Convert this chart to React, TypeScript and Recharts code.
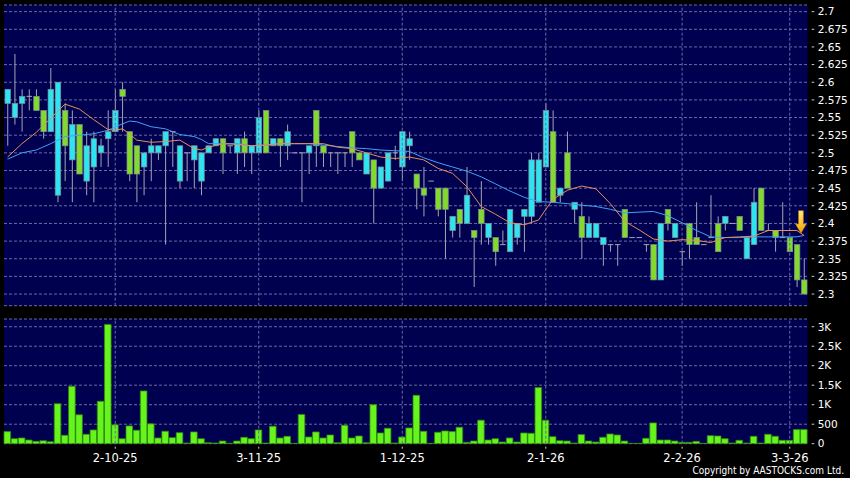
import React from 'react';
import {
	ComposedChart,
	Bar,
	Line,
	XAxis,
	YAxis,
	CartesianGrid,
	ReferenceLine,
	ReferenceDot,
} from 'recharts';

// daily candles (oldest first)
const OPEN = [
	2.57, 2.55, 2.57, 2.58, 2.58, 2.56, 2.53, 2.44, 2.56, 2.49,
	2.54, 2.46, 2.48, 2.5, 2.52, 2.53, 2.59, 2.53, 2.51, 2.48,
	2.5, 2.5, 2.51, 2.53, 2.46, 2.5, 2.49, 2.46, 2.5, 2.51,
	2.52, 2.51, 2.5, 2.52, 2.5, 2.5, 2.56, 2.51, 2.52, 2.51,
	2.5, 2.5, 2.5, 2.56, 2.51, 2.5, 2.5, 2.5, 2.53, 2.5,
	2.47, 2.49, 2.45, 2.46, 2.5, 2.48, 2.51, 2.47, 2.45, 2.46,
	2.45, 2.45, 2.39, 2.42, 2.4, 2.39, 2.42, 2.38, 2.38, 2.37,
	2.36, 2.38, 2.41, 2.41, 2.43, 2.48, 2.53, 2.44, 2.5, 2.42,
	2.41, 2.38, 2.38, 2.37, 2.37, 2.37, 2.42, 2.38, 2.38, 2.37,
	2.37, 2.32, 2.42, 2.38, 2.36, 2.4, 2.38, 2.37, 2.38, 2.4,
	2.4, 2.4, 2.41, 2.35, 2.37, 2.45, 2.39, 2.39, 2.38, 2.38,
	2.37, 2.32,
];
const HIGH = [
	2.59, 2.64, 2.59, 2.59, 2.59, 2.56, 2.62, 2.6, 2.57, 2.56,
	2.54, 2.53, 2.53, 2.52, 2.56, 2.59, 2.6, 2.53, 2.51, 2.5,
	2.52, 2.51, 2.53, 2.53, 2.51, 2.5, 2.51, 2.5, 2.51, 2.52,
	2.52, 2.51, 2.52, 2.53, 2.51, 2.56, 2.56, 2.52, 2.52, 2.54,
	2.5, 2.5, 2.51, 2.56, 2.51, 2.5, 2.5, 2.5, 2.53, 2.5,
	2.5, 2.49, 2.48, 2.5, 2.51, 2.53, 2.53, 2.47, 2.48, 2.46,
	2.45, 2.45, 2.41, 2.42, 2.48, 2.39, 2.46, 2.4, 2.38, 2.39,
	2.42, 2.4, 2.42, 2.5, 2.5, 2.57, 2.56, 2.45, 2.53, 2.43,
	2.43, 2.41, 2.4, 2.38, 2.37, 2.37, 2.42, 2.38, 2.38, 2.37,
	2.37, 2.4, 2.42, 2.4, 2.36, 2.4, 2.43, 2.37, 2.44, 2.41,
	2.41, 2.4, 2.41, 2.38, 2.45, 2.45, 2.4, 2.39, 2.43, 2.38,
	2.37, 2.35,
];
const LOW = [
	2.51, 2.54, 2.53, 2.56, 2.56, 2.52, 2.53, 2.43, 2.46, 2.43,
	2.47, 2.44, 2.43, 2.48, 2.48, 2.53, 2.53, 2.46, 2.43, 2.44,
	2.46, 2.49, 2.37, 2.48, 2.45, 2.46, 2.45, 2.44, 2.5, 2.51,
	2.47, 2.5, 2.47, 2.48, 2.47, 2.5, 2.5, 2.51, 2.48, 2.49,
	2.5, 2.43, 2.47, 2.48, 2.48, 2.48, 2.47, 2.48, 2.48, 2.49,
	2.47, 2.4, 2.45, 2.46, 2.49, 2.46, 2.49, 2.42, 2.41, 2.46,
	2.41, 2.35, 2.38, 2.38, 2.4, 2.31, 2.37, 2.37, 2.34, 2.37,
	2.36, 2.37, 2.36, 2.4, 2.43, 2.48, 2.43, 2.43, 2.45, 2.4,
	2.35, 2.38, 2.38, 2.34, 2.36, 2.34, 2.38, 2.38, 2.38, 2.36,
	2.32, 2.32, 2.39, 2.38, 2.34, 2.35, 2.37, 2.37, 2.38, 2.36,
	2.39, 2.4, 2.39, 2.35, 2.37, 2.39, 2.39, 2.36, 2.38, 2.36,
	2.31, 2.3,
];
const CLOSE = [
	2.59, 2.57, 2.58, 2.58, 2.56, 2.53, 2.59, 2.6, 2.51, 2.54,
	2.47, 2.51, 2.52, 2.51, 2.53, 2.56, 2.58, 2.47, 2.47, 2.5,
	2.51, 2.51, 2.53, 2.53, 2.51, 2.5, 2.51, 2.5, 2.51, 2.52,
	2.5, 2.51, 2.52, 2.5, 2.51, 2.55, 2.5, 2.52, 2.51, 2.53,
	2.5, 2.5, 2.51, 2.51, 2.5, 2.5, 2.5, 2.5, 2.5, 2.49,
	2.5, 2.45, 2.48, 2.5, 2.5, 2.53, 2.52, 2.45, 2.44, 2.46,
	2.42, 2.42, 2.41, 2.4, 2.44, 2.38, 2.4, 2.4, 2.36, 2.37,
	2.42, 2.4, 2.42, 2.49, 2.49, 2.56, 2.43, 2.45, 2.45, 2.43,
	2.38, 2.4, 2.4, 2.38, 2.37, 2.37, 2.38, 2.38, 2.38, 2.37,
	2.32, 2.4, 2.4, 2.4, 2.36, 2.37, 2.37, 2.37, 2.38, 2.36,
	2.41, 2.4, 2.39, 2.38, 2.43, 2.39, 2.39, 2.38, 2.38, 2.36,
	2.32, 2.3,
];
const VOLUME = [
	310, 129, 147, 95, 60, 78, 52, 1026, 216, 1474,
	741, 241, 353, 1086, 3060, 483, 129, 457, 345, 1353,
	509, 147, 319, 155, 284, 17, 302, 129, 26, 17,
	69, 9, 69, 164, 129, 353, 17, 448, 147, 190,
	9, 750, 172, 302, 147, 224, 26, 474, 147, 198,
	26, 1000, 276, 397, 17, 172, 405, 1241, 319, 9,
	293, 328, 310, 422, 34, 69, 603, 95, 129, 43,
	147, 43, 276, 267, 1440, 603, 181, 78, 69, 17,
	233, 69, 43, 164, 250, 224, 69, 9, 9, 138,
	534, 95, 95, 69, 34, 34, 60, 9, 207, 198,
	129, 17, 86, 17, 190, 17, 241, 190, 86, 86,
	362, 362,
];

// moving averages as [candle index, value], read every couple of candles
const MA_FAST: [number, number][] = [
	[0, 2.494], [2, 2.513], [4, 2.529], [6, 2.549], [8, 2.569], [10, 2.562], [12, 2.547],
	[14, 2.533], [15, 2.532], [16, 2.534], [17, 2.527], [18, 2.518], [20, 2.515], [22, 2.516],
	[24, 2.518], [26, 2.506], [27, 2.504], [28, 2.508], [30, 2.513], [32, 2.512], [34, 2.51],
	[36, 2.511], [38, 2.513], [40, 2.513], [42, 2.513], [44, 2.513], [46, 2.508], [48, 2.506],
	[50, 2.5], [52, 2.494], [54, 2.492], [56, 2.494], [58, 2.49], [60, 2.478], [62, 2.471],
	[64, 2.452], [66, 2.424], [68, 2.413], [70, 2.401], [72, 2.398], [74, 2.405], [75, 2.42],
	[76, 2.434], [78, 2.447], [80, 2.453], [82, 2.449], [84, 2.428], [86, 2.403], [88, 2.391],
	[90, 2.378], [92, 2.375], [94, 2.377], [96, 2.376], [98, 2.373], [100, 2.38], [102, 2.381],
	[104, 2.382], [106, 2.39], [108, 2.39], [110, 2.39], [111, 2.383],
];
const MA_SLOW: [number, number][] = [
	[0, 2.491], [2, 2.5], [4, 2.504], [6, 2.513], [8, 2.523], [10, 2.525], [12, 2.527],
	[14, 2.532], [16, 2.541], [17, 2.545], [18, 2.544], [20, 2.537], [22, 2.534], [24, 2.526],
	[26, 2.523], [27, 2.519], [28, 2.513], [30, 2.513], [32, 2.513], [34, 2.51], [36, 2.511],
	[38, 2.513], [40, 2.513], [42, 2.513], [44, 2.511], [46, 2.509], [48, 2.507], [50, 2.506],
	[52, 2.504], [54, 2.503], [56, 2.502], [58, 2.493], [60, 2.486], [62, 2.48], [64, 2.474],
	[66, 2.466], [68, 2.456], [70, 2.446], [72, 2.437], [74, 2.431], [76, 2.43], [78, 2.428],
	[80, 2.426], [82, 2.424], [84, 2.42], [86, 2.415], [88, 2.416], [90, 2.417], [92, 2.411],
	[94, 2.401], [96, 2.39], [98, 2.381], [100, 2.38], [102, 2.38], [104, 2.381], [106, 2.381],
	[108, 2.381], [110, 2.381], [111, 2.383],
];

const PRICE_TICKS = [
	2.3, 2.325, 2.35, 2.375, 2.4, 2.425, 2.45, 2.475, 2.5,
	2.525, 2.55, 2.575, 2.6, 2.625, 2.65, 2.675, 2.7,
];
const VOL_TICKS = [0, 500, 1000, 1500, 2000, 2500, 3000];
const VOL_LABELS = ['0', '500', '1K', '1.5K', '2K', '2.5K', '3K'];
const DATE_TICKS = [15, 35, 55, 75, 94, 109];
const DATE_LABELS = ['2-10-25', '3-11-25', '1-12-25', '2-1-26', '2-2-26', '3-3-26'];

const ARROW_AT = 110;
const ARROW_PRICE = 2.386;

const BG = '#000050';
const GRID = '#6a6aa4';
const UP = '#2ee4f0';
const DOWN = '#82da2c';
const WICK = '#a4a4b4';
const FONT = 'DejaVu Sans';

type Row = {
	i: number;
	open: number;
	high: number;
	low: number;
	close: number;
	vol: number;
	maFast: number | null;
	maSlow: number | null;
};

const data: Row[] = OPEN.map((o, i) => ({
	i,
	open: o,
	high: HIGH[i],
	low: LOW[i],
	close: CLOSE[i],
	vol: VOLUME[i],
	maFast: null,
	maSlow: null,
}));
for (const [i, v] of MA_FAST) data[i].maFast = v;
for (const [i, v] of MA_SLOW) data[i].maSlow = v;

function Candle(props: any) {
	const { x, y, width, height, payload } = props;
	if (payload == null || x == null) return null;
	const top = Math.min(y, y + height);
	const h = Math.abs(height);
	const { open, close, high, low } = payload as Row;
	const span = high - low;
	const py = (v: number) => (span > 0 ? top + ((high - v) / span) * h : top);
	const cx = x + width / 2;
	const bTop = py(Math.max(open, close));
	const bBot = py(Math.min(open, close));
	return (
		<g>
			{h > 0 && <line x1={cx} x2={cx} y1={top} y2={top + h} stroke={WICK} strokeWidth={1} />}
			{open === close ? (
				<line x1={x} x2={x + width} y1={bTop} y2={bTop} stroke={WICK} strokeWidth={1} />
			) : (
				<rect
					x={x}
					y={bTop}
					width={width}
					height={Math.max(bBot - bTop, 1)}
					fill={close > open ? UP : DOWN}
					stroke="#7d8c90"
					strokeWidth={0.7}
				/>
			)}
		</g>
	);
}

function RightTick(props: any, fmt: (v: number) => string) {
	const { x, y, payload } = props;
	return (
		<g>
			<line x1={x + 4} x2={x + 6.5} y1={y} y2={y} stroke="#d0d0d0" />
			<text x={x + 10} y={y} dy="0.36em" fill="#ffffff" fontSize={10.5} fontFamily={FONT}>
				{fmt(payload.value)}
			</text>
		</g>
	);
}

function DateTick(props: any) {
	const { x, y, payload } = props;
	const label = DATE_LABELS[DATE_TICKS.indexOf(payload.value)];
	return (
		<g>
			<line x1={x} x2={x} y1={y + 3} y2={y + 5} stroke="#d0d0d0" />
			<text x={x} y={y + 14} dy="0.36em" textAnchor="middle" fill="#ffffff" fontSize={11.5} fontFamily={FONT}>
				{label}
			</text>
		</g>
	);
}

function ArrowMark(props: any) {
	const { cx, cy } = props;
	if (cx == null) return null;
	const x = cx + 4;
	const d = `M${x - 2.4},${cy - 22.7} L${x + 2.4},${cy - 22.7} L${x + 2.4},${cy - 9.3} L${x + 5.4},${cy - 9.3} L${x},${cy} L${x - 5.4},${cy - 9.3} L${x - 2.4},${cy - 9.3} Z`;
	return (
		<g>
			<defs>
				<linearGradient id="arrowFill" x1="0" y1="0" x2="0" y2="1">
					<stop offset="0" stopColor="#fff07a" />
					<stop offset="1" stopColor="#f4a200" />
				</linearGradient>
			</defs>
			<path d={d} fill="url(#arrowFill)" stroke="#c87a00" strokeWidth={0.6} />
		</g>
	);
}

export default function App() {
	return (
		<div style={{ position: 'fixed', left: 0, top: 0, width: 850, height: 478, background: '#000', overflow: 'hidden' }}>
			<div style={{ position: 'absolute', left: 0, top: 0 }}>
				<ComposedChart width={850} height={310} data={data} margin={{ top: 5, right: 0, bottom: 4.3, left: 4 }}>
					<CartesianGrid
						vertical={false}
						fill={BG}
						stroke={GRID}
						strokeDasharray="3 2"
					/>
					<XAxis dataKey="i" hide />
					<YAxis
						orientation="right"
						width={42.3}
						type="number"
						domain={[2.2835, 2.7094]}
						allowDataOverflow
						ticks={PRICE_TICKS}
						interval={0}
						axisLine={false}
						tickLine={false}
						tickSize={0}
						tickMargin={0}
						tick={(p: any) => RightTick(p, (v) => String(v))}
					/>
					{DATE_TICKS.map((t) => (
						<ReferenceLine key={t} x={t} stroke={GRID} strokeDasharray="3 2" />
					))}
					<Bar
						dataKey={(d: Row) => [d.low, d.high]}
						barSize={5.5}
						shape={(p: any) => <Candle {...p} />}
						isAnimationActive={false}
					/>
					<Line
						dataKey="maSlow"
						stroke="#3ea2f4"
						strokeWidth={1}
						dot={false}
						connectNulls
						isAnimationActive={false}
					/>
					<Line
						dataKey="maFast"
						stroke="#e88d5a"
						strokeWidth={1}
						dot={false}
						connectNulls
						isAnimationActive={false}
					/>
					<ReferenceDot x={ARROW_AT} y={ARROW_PRICE} r={0} shape={(p: any) => <ArrowMark {...p} />} />
				</ComposedChart>
			</div>
			<div style={{ position: 'absolute', left: 0, top: 314 }}>
				<ComposedChart width={850} height={164} data={data} margin={{ top: 5, right: 0, bottom: 0, left: 4 }}>
					<CartesianGrid vertical={false} fill={BG} stroke={GRID} strokeDasharray="3 2" />
					<XAxis
						dataKey="i"
						height={34.3}
						ticks={DATE_TICKS}
						interval={0}
						axisLine={false}
						tickLine={false}
						tickSize={0}
						tickMargin={0}
						tick={(p: any) => <DateTick {...p} />}
					/>
					<YAxis
						orientation="right"
						width={42.3}
						type="number"
						domain={[0, 3198]}
						allowDataOverflow
						ticks={VOL_TICKS}
						interval={0}
						axisLine={false}
						tickLine={false}
						tickSize={0}
						tickMargin={0}
						tick={(p: any) => RightTick(p, (v) => VOL_LABELS[VOL_TICKS.indexOf(v)])}
					/>
					{DATE_TICKS.map((t) => (
						<ReferenceLine key={t} x={t} stroke={GRID} strokeDasharray="3 2" />
					))}
					<Bar dataKey="vol" barSize={6.6} fill="#66f41c" stroke="#2e8b0a" strokeWidth={0.8} isAnimationActive={false} />
				</ComposedChart>
			</div>
			<div
				style={{
					position: 'absolute',
					right: 6,
					top: 464,
					fontFamily: '"DejaVu Sans Condensed", "DejaVu Sans", sans-serif',
					fontSize: 10,
					lineHeight: '13px',
					color: '#ffffff',
					whiteSpace: 'nowrap',
				}}
			>
				Copyright by AASTOCKS.com Ltd.
			</div>
		</div>
	);
}
